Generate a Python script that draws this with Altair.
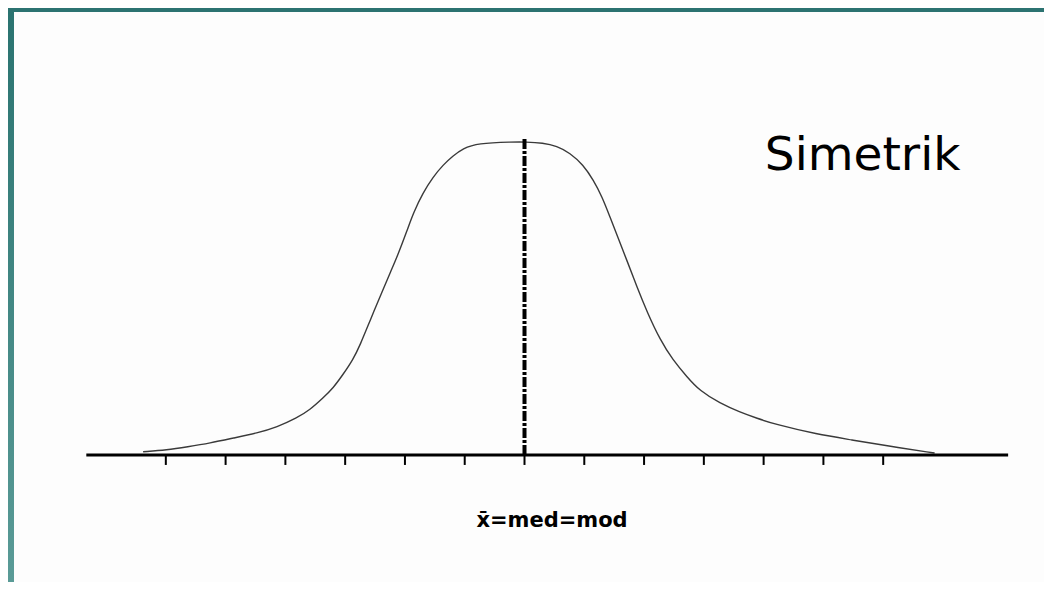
import altair as alt
import pandas as pd

# Curve (x in tick units, y relative to peak height)
curve_x = [-6.38, -5.98, -5.64, -5.26, -4.87, -4.47, -4.14, -3.81, -3.59, -3.37,
           -3.20, -3.04, -2.87, -2.75, -2.58, -2.37, -2.25, -2.13, -1.96, -1.86,
           -1.70, -1.53, -1.36, -1.20, -1.03, -0.79, -0.19, 0.01, 0.31, 0.54,
           0.76, 0.98, 1.15, 1.30, 1.43, 1.56, 1.71, 1.88, 2.05, 2.27,
           2.48, 2.72, 2.93, 3.27, 3.60, 3.89, 4.19, 4.89, 5.48, 6.06, 6.86]
curve_y = [0.010, 0.016, 0.026, 0.038, 0.054, 0.070, 0.089, 0.118, 0.144, 0.182,
           0.214, 0.256, 0.304, 0.351, 0.431, 0.527, 0.581, 0.633, 0.719, 0.773,
           0.837, 0.888, 0.927, 0.955, 0.979, 0.996, 1.000, 1.000, 0.997, 0.987,
           0.965, 0.927, 0.879, 0.824, 0.760, 0.696, 0.623, 0.537, 0.457, 0.367,
           0.304, 0.249, 0.205, 0.165, 0.137, 0.117, 0.098, 0.066, 0.048, 0.029, 0.006]

tick_positions = [-6, -5, -4, -3, -2, -1, 0, 1, 2, 3, 4, 5, 6]
axis_start, axis_end = -7.33, 8.09
center_line_top = 1.016
tick_depth = -0.032
label_text = "x\u0304=med=mod"
title_text = "Simetrik"

W, H = 1036, 574
xs = alt.Scale(domain=[-8.64, 8.69], nice=False, zero=False)
ys = alt.Scale(domain=[-0.406, 1.428], nice=False, zero=False)
X = lambda f: alt.X(f, type="quantitative", scale=xs, axis=None)
Y = lambda f: alt.Y(f, type="quantitative", scale=ys, axis=None)

curve_df = pd.DataFrame({"x": curve_x, "y": curve_y})
ticks_df = pd.DataFrame({"x": tick_positions, "y": [0] * len(tick_positions),
                         "y2": [tick_depth] * len(tick_positions)})
axis_df = pd.DataFrame({"x": [axis_start], "x2": [axis_end], "y": [0]})
center_df = pd.DataFrame({"x": [0], "y": [0], "y2": [center_line_top]})
title_df = pd.DataFrame({"x": [4.02], "y": [0.911], "t": [title_text]})
label_df = pd.DataFrame({"x": [0.46], "y": [-0.230], "t": [label_text]})

left_band = alt.Chart(pd.DataFrame({"a": [0]})).mark_rect(
    color=alt.Gradient(gradient="linear",
                       stops=[alt.GradientStop(color="#2a7370", offset=0),
                              alt.GradientStop(color="#5a9b97", offset=1)],
                       x1=0, x2=0, y1=0, y2=1)
).encode(x=alt.value(0), x2=alt.value(6), y=alt.value(0), y2=alt.value(H))
top_band = alt.Chart(pd.DataFrame({"a": [0]})).mark_rect(color="#2c7371").encode(
    x=alt.value(0), x2=alt.value(W), y=alt.value(0), y2=alt.value(4))

curve = alt.Chart(curve_df).mark_line(color="#3a3a3a", strokeWidth=1.4,
                                      interpolate="basis").encode(
    x=X("x"), y=Y("y"), order=alt.Order("x:Q"))
axis_line = alt.Chart(axis_df).mark_rule(color="black", strokeWidth=3).encode(
    x=X("x"), x2="x2", y=Y("y"))
ticks = alt.Chart(ticks_df).mark_rule(color="black", strokeWidth=2).encode(
    x=X("x"), y=Y("y"), y2="y2")
center = alt.Chart(center_df).mark_rule(color="black", strokeWidth=4,
                                        strokeDash=[10, 2, 3, 2]).encode(
    x=X("x"), y=Y("y"), y2="y2")
title = alt.Chart(title_df).mark_text(align="left", baseline="alphabetic",
                                      font="DejaVu Sans", fontSize=47,
                                      color="black").encode(
    x=X("x"), y=Y("y"), text="t:N")
label = alt.Chart(label_df).mark_text(align="center", baseline="alphabetic",
                                      font="DejaVu Sans", fontSize=21,
                                      fontWeight="bold", color="black").encode(
    x=X("x"), y=Y("y"), text="t:N")

chart = alt.layer(left_band, top_band, curve, axis_line, ticks, center, title, label).properties(
    width=W, height=H, padding=0,
    autosize=alt.AutoSizeParams(type="fit", contains="padding"),
    background="#fdfdfd"
).configure_view(stroke=None)

chart.save("out.html", embed_options={"renderer": "svg", "actions": False})
